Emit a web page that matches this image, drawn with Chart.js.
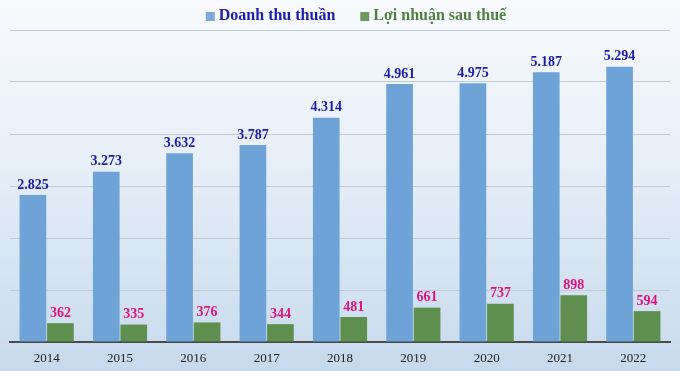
<!DOCTYPE html>
<html>
<head>
<meta charset="utf-8">
<script src="https://cdn.jsdelivr.net/npm/chart.js@4"></script>
<style>
  html, body { margin: 0; padding: 0; }
  body {
    width: 680px; height: 371px; overflow: hidden;
    background: linear-gradient(to bottom, #f8fafd 0%, #e6eef8 45%, #c6daed 100%);
  }
  #wrap { width: 680px; height: 371px; position: relative; }
</style>
</head>
<body>
<div id="wrap"><canvas id="revChart"></canvas></div>
<script>
// years and values (billion VND)
const years = ['2014', '2015', '2016', '2017', '2018', '2019', '2020', '2021', '2022'];
const revenue = [2825, 3273, 3632, 3787, 4314, 4961, 4975, 5187, 5294];
const profit = [362, 335, 376, 344, 481, 661, 737, 898, 594];
const yTicks = [0, 1000, 2000, 3000, 4000, 5000, 6000];

const labelColors = ['#1c1ca8', '#e0127c'];
const legendColors = ['#1c1ca8', '#4f7f3f'];
const legendBoxes = ['#7aaade', '#6e9a62'];
const serif = '"Liberation Serif", "Times New Roman", serif';

function fmt(v) {
  return String(v).replace(/\B(?=(\d{3})+(?!\d))/g, '.');
}

// draw values above bars
const valueLabels = {
  id: 'valueLabels',
  afterDatasetsDraw(chart) {
    const ctx = chart.ctx;
    ctx.save();
    ctx.font = 'bold 14px ' + serif;
    ctx.textAlign = 'center';
    ctx.textBaseline = 'bottom';
    chart.data.datasets.forEach((ds, i) => {
      const meta = chart.getDatasetMeta(i);
      ctx.fillStyle = labelColors[i];
      meta.data.forEach((bar, j) => {
        ctx.fillText(fmt(ds.data[j]), bar.x, bar.y - 3);
      });
    });
    ctx.restore();
  }
};

// legend on top: small square, then bold coloured label
const topLegend = {
  id: 'topLegend',
  afterDraw(chart) {
    const ctx = chart.ctx;
    const sets = chart.data.datasets;
    ctx.save();
    ctx.font = 'bold 16px ' + serif;
    ctx.textBaseline = 'middle';
    const box = 9, gapText = 4, gapItem = 25;
    let total = 0;
    sets.forEach((ds, i) => {
      total += box + gapText + ctx.measureText(ds.label).width + (i ? gapItem : 0);
    });
    const area = chart.chartArea;
    let x = (area.left + area.right) / 2 - total / 2 + 16;
    const y = 16;
    sets.forEach((ds, i) => {
      if (i) x += gapItem;
      ctx.fillStyle = legendBoxes[i];
      ctx.fillRect(x, y - 4, box, box);
      x += box + gapText;
      ctx.fillStyle = legendColors[i];
      ctx.fillText(ds.label, x, y);
      x += ctx.measureText(ds.label).width;
    });
    ctx.restore();
  }
};

const ctx = document.getElementById('revChart').getContext('2d');
const chart = new Chart(ctx, {
  type: 'bar',
  data: {
    labels: years,
    datasets: [
      {
        label: 'Doanh thu thuần',
        data: revenue,
        backgroundColor: '#6da3d7',
        categoryPercentage: 0.75,
        barPercentage: 0.97
      },
      {
        label: 'Lợi nhuận sau thuế',
        data: profit,
        backgroundColor: '#5f8f4f',
        categoryPercentage: 0.75,
        barPercentage: 0.97
      }
    ]
  },
  options: {
    responsive: true,
    maintainAspectRatio: false,
    animation: false,
    layout: { padding: { left: 10, right: 10, top: 30, bottom: -4 } },
    plugins: {
      tooltip: { enabled: false },
      legend: { display: false }
    },
    scales: {
      x: {
        grid: { display: false, drawTicks: false },
        border: { display: true, color: '#4a4a4a', width: 2 },
        ticks: {
          color: '#222',
          padding: 10,
          font: { family: serif, size: 13, lineHeight: 1 }
        }
      },
      y: {
        min: 0,
        max: 6000,
        afterBuildTicks(axis) {
          axis.ticks = yTicks.map(v => ({ value: v }));
        },
        grid: { color: '#c2c9d3', lineWidth: 1, drawTicks: false },
        border: { display: false },
        ticks: { display: false }
      }
    }
  },
  plugins: [valueLabels, topLegend]
});
</script>
</body>
</html>
